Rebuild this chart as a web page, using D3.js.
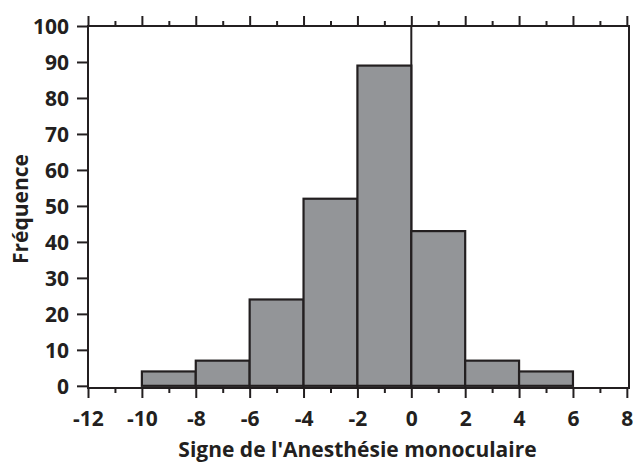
<!DOCTYPE html>
<html>
<head>
<meta charset="utf-8">
<script src="https://cdn.jsdelivr.net/npm/d3@7/dist/d3.min.js"></script>
<style>
  html, body { margin: 0; padding: 0; background: #fff; }
  svg { display: block; }
  text { font-family: "Open Sans", "Noto Sans", sans-serif; font-weight: 700; fill: #231f20; }
</style>
</head>
<body>
<svg id="chart" width="633" height="464"></svg>
<script>
// Histogram bins (left edge, right edge) and counts
const binStarts = [-10, -8, -6, -4, -2, 0, 2, 4];
const binEnds   = [-8, -6, -4, -2, 0, 2, 4, 6];
const counts    = [4, 7, 24, 52, 89, 43, 7, 4];

const xMajorTicks = [-12, -10, -8, -6, -4, -2, 0, 2, 4, 6, 8];
const xMinorTicks = [-11, -9, -7, -5, -3, -1, 1, 3, 5, 7];
const yTicks = [0, 10, 20, 30, 40, 50, 60, 70, 80, 90, 100];

const xTitle = "Signe de l'Anesthésie monoculaire";
const yTitle = "Fréquence";

const ink = "#231f20";
const barFill = "#939598";

const plotLeft = 88, plotRight = 629, plotTop = 26, plotBottom = 388;

const svg = d3.select("#chart");

const x = d3.scaleLinear().domain([-12, 8.08]).range([plotLeft, plotRight]);
const y = d3.scaleLinear().domain([-0.6, 100]).range([plotBottom, plotTop]);

// zero reference line
svg.append("line")
  .attr("x1", x(0)).attr("x2", x(0))
  .attr("y1", plotTop).attr("y2", plotBottom)
  .attr("stroke", ink).attr("stroke-width", 2);

// bars
svg.append("g").selectAll("rect")
  .data(counts)
  .join("rect")
  .attr("x", (d, i) => x(binStarts[i]))
  .attr("width", (d, i) => x(binEnds[i]) - x(binStarts[i]))
  .attr("y", d => y(d))
  .attr("height", d => y(0) - y(d))
  .attr("fill", barFill)
  .attr("stroke", ink)
  .attr("stroke-width", 2.2);

// frame
svg.append("rect")
  .attr("x", plotLeft).attr("y", plotTop)
  .attr("width", plotRight - plotLeft).attr("height", plotBottom - plotTop)
  .attr("fill", "none")
  .attr("stroke", ink).attr("stroke-width", 2);

function styleAxis(g) {
  g.select(".domain").remove();
  g.selectAll(".tick line").attr("stroke", ink).attr("stroke-width", 2);
}

// top axis: ticks only
svg.append("g").attr("transform", `translate(0,${plotTop})`)
  .call(d3.axisTop(x).tickValues(xMajorTicks).tickSize(10).tickFormat(""))
  .call(styleAxis);
svg.append("g").attr("transform", `translate(0,${plotTop})`)
  .call(d3.axisTop(x).tickValues(xMinorTicks).tickSize(5).tickFormat(""))
  .call(styleAxis);

// bottom axis
const bx = svg.append("g").attr("transform", `translate(0,${plotBottom})`)
  .call(d3.axisBottom(x).tickValues(xMajorTicks).tickSize(10).tickPadding(13).tickFormat(d => String(d)))
  .call(styleAxis);
bx.selectAll("text").attr("font-size", 21).attr("fill", ink).attr("font-family", null);
svg.append("g").attr("transform", `translate(0,${plotBottom})`)
  .call(d3.axisBottom(x).tickValues(xMinorTicks).tickSize(5).tickFormat(""))
  .call(styleAxis);

// left axis
const ly = svg.append("g").attr("transform", `translate(${plotLeft},0)`)
  .call(d3.axisLeft(y).tickValues(yTicks).tickSize(11).tickPadding(8).tickFormat(d => String(d)))
  .call(styleAxis);
ly.selectAll("text").attr("font-size", 21).attr("fill", ink).attr("font-family", null)
  .attr("dy", "0.38em");

// axis titles
svg.append("text")
  .attr("x", (plotLeft + plotRight) / 2 - 1).attr("y", 457)
  .attr("text-anchor", "middle")
  .attr("font-size", 21)
  .text(xTitle);

svg.append("text")
  .attr("transform", `translate(28,${(plotTop + plotBottom) / 2 + 2}) rotate(-90)`)
  .attr("text-anchor", "middle")
  .attr("font-size", 21)
  .text(yTitle);
</script>
</body>
</html>
